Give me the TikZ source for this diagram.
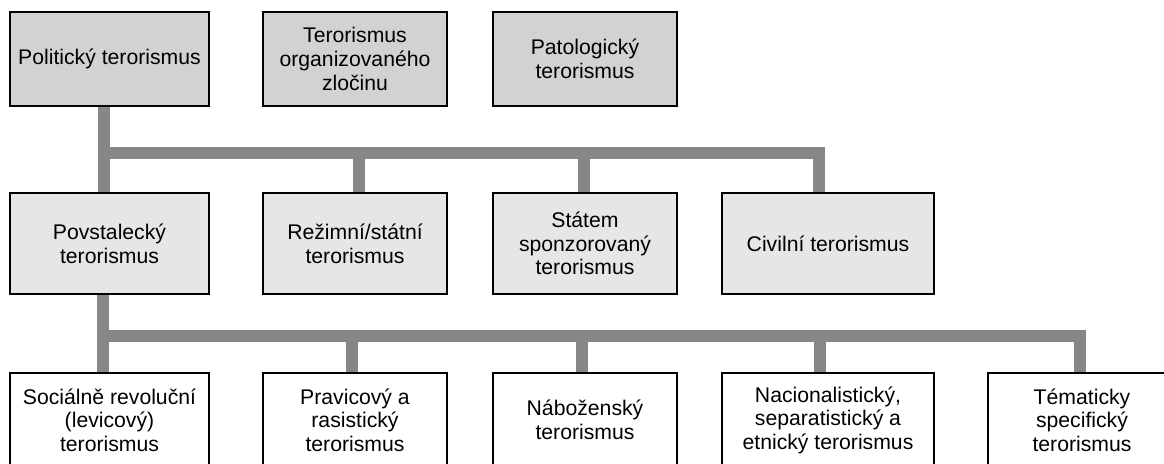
\documentclass[tikz,border=0pt]{standalone}
\usepackage{fontspec}
\setmainfont{Liberation Sans}
\definecolor{topgray}{HTML}{D2D2D2}
\definecolor{midgray}{HTML}{E6E6E6}
\definecolor{linkgray}{HTML}{878787}

\begin{document}
\begin{tikzpicture}[x=1pt,y=-1pt,
  typbox/.style={draw=black,line width=1.2pt,align=center,inner sep=0pt,
    font=\fontsize{21.2}{23.6}\selectfont},
  hlavni/.style={typbox,fill=topgray,minimum height=94pt},
  druh/.style={typbox,fill=midgray,minimum height=101pt},
  podtyp/.style={typbox,fill=white,minimum height=94pt},
  link/.style={draw=linkgray,line width=12.5pt}]
\useasboundingbox (0,0) rectangle (1164,463);
\clip (0,0) rectangle (1164,463);
\node[hlavni,minimum width=199pt] (pol) at (109.5,59) {Politický terorismus};
\node[hlavni,minimum width=184pt] (org) at (355,59) {Terorismus\\organizovaného\\zločinu};
\node[hlavni,minimum width=184pt] (pat) at (585,59) {Patologický\\terorismus};
\node[druh,minimum width=199pt] (povst) at (109.5,243.5) {Povstalecký\\terorismus};
\node[druh,minimum width=184pt] (rez) at (355,243.5) {Režimní/státní\\terorismus};
\node[druh,minimum width=184pt] (stat) at (585,243.5) {Státem\\sponzorovaný\\terorismus};
\node[druh,minimum width=212pt] (civ) at (828,243.5) {Civilní terorismus};
\node[podtyp,minimum width=199pt] (soc) at (109.5,420) {Sociálně revoluční\\(levicový)\\terorismus};
\node[podtyp,minimum width=184pt] (prav) at (355,420) {Pravicový a\\rasistický\\terorismus};
\node[podtyp,minimum width=184pt] (nab) at (585,420) {Náboženský\\terorismus};
\node[podtyp,minimum width=212pt] (nac) at (828,420) {Nacionalistický,\\separatistický a\\etnický terorismus};
\node[podtyp,minimum width=188pt] (tem) at (1082,420) {Tématicky\\specifický\\terorismus};
\coordinate (a1) at (104,153);
\coordinate (a2) at (359,153);
\coordinate (a3) at (584,153);
\coordinate (a4) at (819,153);
\coordinate (b1) at (103,336);
\coordinate (b2) at (352,336);
\coordinate (b3) at (582,336);
\coordinate (b4) at (820,336);
\coordinate (b5) at (1080,336);
\draw[link] (pol.south -| a1) -- (povst.north -| a1);
\draw[link,line cap=rect] (a1) -- (a4);
\foreach \j/\n in {a2/rez,a3/stat,a4/civ}
  \draw[link] (\j) -- (\n.north -| \j);
\draw[link] (povst.south -| b1) -- (soc.north -| b1);
\draw[link,line cap=rect] (b1) -- (b5);
\foreach \j/\n in {b2/prav,b3/nab,b4/nac,b5/tem}
  \draw[link] (\j) -- (\n.north -| \j);
\end{tikzpicture}
\end{document}
